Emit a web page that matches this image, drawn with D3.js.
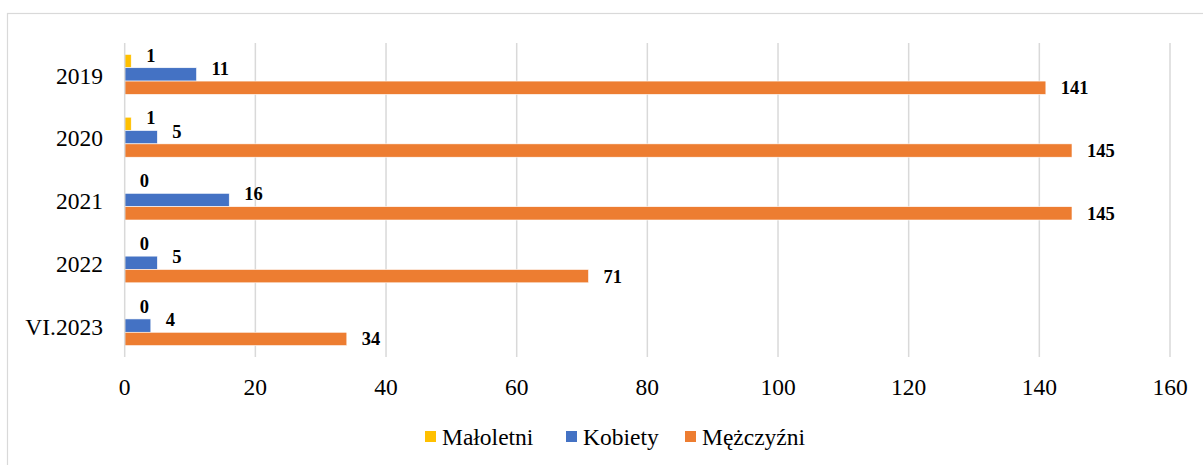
<!DOCTYPE html>
<html>
<head>
<meta charset="utf-8">
<script src="https://cdn.jsdelivr.net/npm/d3@7"></script>
<style>
  body { margin: 0; background: #fff; }
  svg { display: block; }
</style>
</head>
<body>
<div id="chart"></div>
<script>
'use strict';

// data
var categories = ['2019', '2020', '2021', '2022', 'VI.2023'];
var seriesNames = ['Małoletni', 'Kobiety', 'Mężczyźni'];
var maloletni = [1, 1, 0, 0, 0];
var kobiety = [11, 5, 16, 5, 4];
var mezczyzni = [141, 145, 145, 71, 34];
var xTicks = [0, 20, 40, 60, 80, 100, 120, 140, 160];

var colors = ['#FFC000', '#4472C4', '#ED7D31'];
var labelShift = [-6, -6, 0];

var W = 1203, H = 465;
var margin = {top: 43, left: 124.7, right: 33, bottom: 108};
var font = '"Liberation Serif", "Times New Roman", serif';

var svg = d3.select('#chart')
    .append('svg')
        .attr('width', W)
        .attr('height', H);

// outer frame, runs off the right and bottom edges
svg.append('rect')
    .attr('x', 7.5).attr('y', 13.5)
    .attr('width', W + 10).attr('height', H + 10)
    .attr('fill', '#fff')
    .attr('stroke', '#d9d9d9')
    .attr('stroke-width', 1.2);

var x = d3.scaleLinear().domain([0, 160]).range([margin.left, W - margin.right]);
var y0 = d3.scaleBand().domain(categories)
    .range([margin.top, H - margin.bottom])
    .paddingInner(0.363).paddingOuter(0.1815);
var y1 = d3.scaleBand().domain(seriesNames).range([0, y0.bandwidth()]);

// gridlines
svg.append('g')
    .selectAll('line')
    .data(xTicks.slice(1))
    .enter()
        .append('line')
        .attr('x1', function(d){ return x(d); })
        .attr('x2', function(d){ return x(d); })
        .attr('y1', margin.top)
        .attr('y2', H - margin.bottom)
        .attr('stroke', '#d9d9d9')
        .attr('stroke-width', 1.5);

var rows = categories.map(function(c, i){
    return {cat: c, vals: [maloletni[i], kobiety[i], mezczyzni[i]]};
});

var groups = svg.append('g')
    .selectAll('g')
    .data(rows)
    .enter()
        .append('g')
        .attr('transform', function(d){ return 'translate(0,' + y0(d.cat) + ')'; });

groups.selectAll('rect')
    .data(function(d){
        return d.vals.map(function(v, j){ return {s: seriesNames[j], v: v, j: j}; });
    })
    .enter()
        .append('rect')
        .attr('x', x(0))
        .attr('y', function(d){ return y1(d.s); })
        .attr('width', function(d){ return x(d.v) - x(0); })
        .attr('height', y1.bandwidth())
        .attr('fill', function(d){ return colors[d.j]; })
        .attr('stroke', '#fff')
        .attr('stroke-width', 0.6);

groups.selectAll('text')
    .data(function(d){
        return d.vals.map(function(v, j){ return {s: seriesNames[j], v: v, j: j}; });
    })
    .enter()
        .append('text')
        .attr('x', function(d){ return x(d.v) + 15; })
        .attr('y', function(d){ return y1(d.s) + y1.bandwidth() / 2 + labelShift[d.j]; })
        .attr('dy', '0.35em')
        .attr('font-family', font)
        .attr('font-size', '18.5px')
        .attr('font-weight', 'bold')
        .attr('fill', '#000')
        .text(function(d){ return d.v; });

// vertical axis line
svg.append('line')
    .attr('x1', x(0)).attr('x2', x(0))
    .attr('y1', margin.top).attr('y2', H - margin.bottom)
    .attr('stroke', '#d9d9d9')
    .attr('stroke-width', 1.5);

// category labels
svg.append('g')
    .selectAll('text')
    .data(categories)
    .enter()
        .append('text')
        .attr('x', 103)
        .attr('y', function(d){ return y0(d) + y0.bandwidth() / 2 + 1; })
        .attr('dy', '0.35em')
        .attr('text-anchor', 'end')
        .attr('font-family', font)
        .attr('font-size', '23.5px')
        .attr('fill', '#000')
        .text(function(d){ return d; });

// x tick labels
svg.append('g')
    .selectAll('text')
    .data(xTicks)
    .enter()
        .append('text')
        .attr('x', function(d){ return x(d); })
        .attr('y', 387)
        .attr('dy', '0.35em')
        .attr('text-anchor', 'middle')
        .attr('font-family', font)
        .attr('font-size', '23.5px')
        .attr('fill', '#000')
        .text(function(d){ return d; });

// legend
var legendX = [425, 566, 685];
var legend = svg.append('g')
    .selectAll('g')
    .data(seriesNames)
    .enter()
        .append('g')
        .attr('transform', function(d, i){ return 'translate(' + legendX[i] + ',437)'; });

legend.append('rect')
    .attr('x', 0).attr('y', -6)
    .attr('width', 11).attr('height', 11)
    .attr('fill', function(d, i){ return colors[i]; });

legend.append('text')
    .attr('x', 17)
    .attr('y', 0)
    .attr('dy', '0.35em')
    .attr('font-family', font)
    .attr('font-size', '23.5px')
    .attr('fill', '#000')
    .text(function(d){ return d; });
</script>
</body>
</html>
